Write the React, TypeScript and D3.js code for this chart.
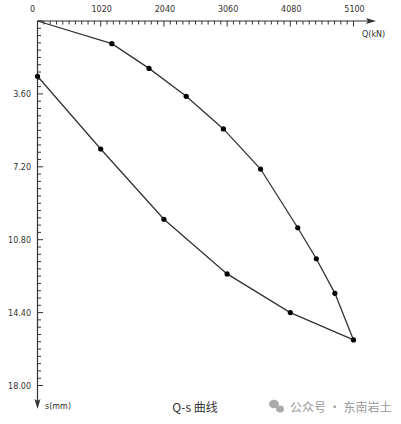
import React from "react";
import * as d3 from "d3";

const loadQ = [0, 1200, 1800, 2400, 3000, 3600, 4200, 4500, 4800, 5100];
const loadS = [0, 1.12, 2.34, 3.72, 5.33, 7.31, 10.21, 11.74, 13.45, 15.75];
const unloadQ = [5100, 4080, 3060, 2040, 1020, 0];
const unloadS = [15.75, 14.4, 12.49, 9.79, 6.32, 2.73];
const xTicks = [0, 1020, 2040, 3060, 4080, 5100];
const yTicks = [3.6, 7.2, 10.8, 14.4, 18.0];

const W = 401;
const H = 424;

export default function App() {
  const x = d3.scaleLinear().domain([0, 5100]).range([37.5, 353.5]);
  const y = d3.scaleLinear().domain([0, 18]).range([21, 385.5]);
  const line = d3
    .line<[number, number]>()
    .x((d) => x(d[0]))
    .y((d) => y(d[1]));
  const loadPts: [number, number][] = loadQ.map((q, i) => [q, loadS[i]]);
  const unloadPts: [number, number][] = unloadQ.map((q, i) => [q, unloadS[i]]);

  const xMinor = d3.range(0, 51).map((i) => i * 102);
  const yMinor = d3.range(0, 51).map((i) => i * 0.36);
  const font = "'DejaVu Sans', Verdana, sans-serif";
  const axisColor = "#333";

  return (
    <svg
      width={W}
      height={H}
      style={{ position: "absolute", left: 0, top: 0, background: "#fff" }}
    >
      <rect width={W} height={H} fill="#fff" />
      {/* X axis */}
      <line x1={x(0)} y1={y(0)} x2={370} y2={y(0)} stroke={axisColor} strokeWidth={1.2} />
      <path d={`M376,${y(0)} L366,${y(0) - 3} L368,${y(0)} L366,${y(0) + 3} Z`} fill={axisColor} />
      {xMinor.map((v, i) => (
        <line
          key={"xm" + i}
          x1={x(v)}
          x2={x(v)}
          y1={y(0)}
          y2={y(0) + (i % 10 === 0 ? 5.5 : 3.5)}
          stroke={axisColor}
          strokeWidth={1}
        />
      ))}
      {xTicks.map((v, i) => (
        <text
          key={"xt" + i}
          x={v === 0 ? x(v) - 5 : x(v) + 1}
          y={12}
          fontSize={8}
          fontFamily={font}
          fill="#333"
          textAnchor="middle"
        >
          {v}
        </text>
      ))}
      <text x={362} y={37} fontSize={8} fontFamily={font} fill="#333">
        Q(kN)
      </text>
      {/* Y axis */}
      <line x1={x(0)} y1={y(0)} x2={x(0)} y2={403} stroke={axisColor} strokeWidth={1.2} />
      <path d={`M${x(0)},409 L${x(0) - 3},399 L${x(0)},401 L${x(0) + 3},399 Z`} fill={axisColor} />
      {yMinor.map((v, i) => (
        <line
          key={"ym" + i}
          x1={x(0)}
          x2={x(0) + (i % 10 === 0 ? 5.5 : 3.5)}
          y1={y(v)}
          y2={y(v)}
          stroke={axisColor}
          strokeWidth={1}
        />
      ))}
      {yTicks.map((v, i) => (
        <text
          key={"yt" + i}
          x={31}
          y={y(v) + 3}
          fontSize={8}
          fontFamily={font}
          fill="#333"
          textAnchor="end"
        >
          {v.toFixed(2)}
        </text>
      ))}
      <text x={45} y={409} fontSize={8} fontFamily={font} fill="#333">
        s(mm)
      </text>
      {/* curves */}
      <path d={line(loadPts) || ""} fill="none" stroke="#333" strokeWidth={1.3} />
      <path d={line(unloadPts) || ""} fill="none" stroke="#333" strokeWidth={1.3} />
      {loadPts.slice(1).map((d, i) => (
        <circle key={"lp" + i} cx={x(d[0])} cy={y(d[1])} r={2.6} fill="#000" />
      ))}
      {unloadPts.slice(1).map((d, i) => (
        <circle key={"up" + i} cx={x(d[0])} cy={y(d[1])} r={2.6} fill="#000" />
      ))}
      {/* title */}
      <text
        x={195}
        y={412}
        fontSize={12}
        fontFamily="'Noto Sans CJK SC', 'Noto Sans', sans-serif"
        fill="#333"
        textAnchor="middle"
      >
        Q-s 曲线
      </text>
      {/* watermark */}
      <g fill="#aaa">
        <ellipse cx={274} cy={404} rx={5} ry={4.3} />
        <ellipse cx={280} cy={409} rx={4} ry={3.4} />
      </g>
      <text
        x={290}
        y={412}
        fontSize={12}
        fontFamily="'Noto Sans CJK SC', sans-serif"
        fill="#999"
      >
        公众号 · 东南岩土
      </text>
    </svg>
  );
}
